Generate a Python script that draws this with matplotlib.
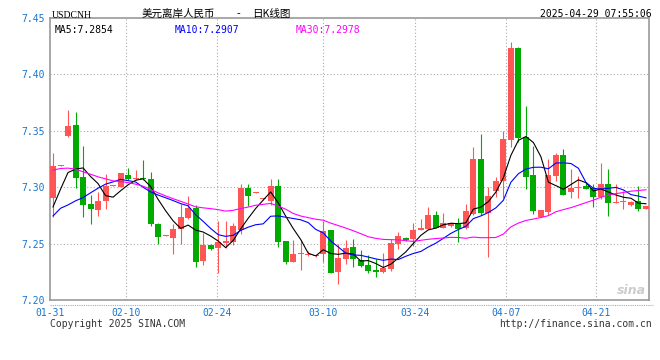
import numpy as np
import matplotlib
matplotlib.use("Agg")
import matplotlib.pyplot as plt
from matplotlib.lines import Line2D

# daily candles USD/CNH (open, high, low, close)
opens = [7.2907, 7.3190, 7.3457, 7.3552, 7.3090, 7.2851, 7.2797, 7.2874, 7.3013, 7.3004,
         7.3108, 7.3076, 7.3080, 7.3072, 7.2677, 7.2566, 7.2553, 7.2627, 7.2731, 7.2814,
         7.2345, 7.2485, 7.2461, 7.2509, 7.2515, 7.2619, 7.2997, 7.2948, 7.2893, 7.2881,
         7.3015, 7.2524, 7.2336, 7.2405, 7.2396, 7.2387, 7.2405, 7.2619, 7.2247, 7.2360,
         7.2470, 7.2351, 7.2307, 7.2262, 7.2247, 7.2274, 7.2500, 7.2548, 7.2539, 7.2625,
         7.2631, 7.2753, 7.2640, 7.2660, 7.2683, 7.2639, 7.2766, 7.3249, 7.2772, 7.2964,
         7.3053, 7.3417, 7.4237, 7.3444, 7.3109, 7.2737, 7.2781, 7.3098, 7.3284, 7.2956,
         7.2991, 7.3015, 7.2994, 7.2917, 7.3024, 7.2858, 7.2867, 7.2846, 7.2882, 7.2805]
highs = [7.3306, 7.3198, 7.3685, 7.3664, 7.3366, 7.2933, 7.2960, 7.3117, 7.3020, 7.3128,
         7.3170, 7.3152, 7.3241, 7.3138, 7.2680, 7.2572, 7.2671, 7.2849, 7.2923, 7.2843,
         7.2595, 7.2494, 7.2702, 7.2699, 7.2685, 7.3030, 7.3024, 7.2955, 7.2903, 7.3074,
         7.3074, 7.2524, 7.2536, 7.2536, 7.2435, 7.2399, 7.2702, 7.2619, 7.2494, 7.2530,
         7.2539, 7.2441, 7.2402, 7.2363, 7.2417, 7.2542, 7.2601, 7.2557, 7.2685, 7.2717,
         7.2824, 7.2789, 7.2771, 7.2690, 7.2731, 7.2849, 7.3358, 7.3476, 7.3003, 7.3089,
         7.3500, 7.4287, 7.4246, 7.3719, 7.3367, 7.2800, 7.3249, 7.3302, 7.3343, 7.3157,
         7.3095, 7.3050, 7.3030, 7.3213, 7.3157, 7.3030, 7.2964, 7.2875, 7.3015, 7.2836]
lows = [7.2738, 7.3188, 7.3448, 7.2996, 7.2738, 7.2676, 7.2747, 7.2809, 7.3011, 7.3002,
        7.3064, 7.3066, 7.3066, 7.2655, 7.2494, 7.2564, 7.2411, 7.2494, 7.2716, 7.2296,
        7.2307, 7.2440, 7.2241, 7.2464, 7.2485, 7.2589, 7.2836, 7.2946, 7.2890, 7.2842,
        7.2470, 7.2321, 7.2336, 7.2262, 7.2393, 7.2384, 7.2336, 7.2238, 7.2143, 7.2321,
        7.2292, 7.2289, 7.2241, 7.2202, 7.2241, 7.2259, 7.2455, 7.2527, 7.2476, 7.2619,
        7.2631, 7.2640, 7.2640, 7.2650, 7.2515, 7.2633, 7.2751, 7.2751, 7.2382, 7.2914,
        7.2908, 7.3358, 7.3402, 7.2982, 7.2760, 7.2735, 7.2751, 7.3059, 7.2935, 7.2905,
        7.2902, 7.2982, 7.2822, 7.2893, 7.2748, 7.2856, 7.2805, 7.2837, 7.2793, 7.2803]
closes = [7.3188, 7.3195, 7.3543, 7.3084, 7.2845, 7.2809, 7.2880, 7.3007, 7.3018, 7.3126,
          7.3075, 7.3081, 7.3072, 7.2673, 7.2562, 7.2570, 7.2633, 7.2737, 7.2819, 7.2340,
          7.2485, 7.2455, 7.2515, 7.2527, 7.2655, 7.2997, 7.2926, 7.2952, 7.2898, 7.3015,
          7.2515, 7.2336, 7.2405, 7.2410, 7.2408, 7.2396, 7.2610, 7.2238, 7.2372, 7.2461,
          7.2360, 7.2298, 7.2256, 7.2244, 7.2283, 7.2506, 7.2565, 7.2533, 7.2619, 7.2640,
          7.2753, 7.2640, 7.2682, 7.2683, 7.2627, 7.2787, 7.3249, 7.2772, 7.2923, 7.3053,
          7.3426, 7.4237, 7.3438, 7.3092, 7.2787, 7.2796, 7.3109, 7.3284, 7.2935, 7.2994,
          7.3005, 7.2982, 7.2917, 7.3024, 7.2858, 7.2873, 7.2882, 7.2873, 7.2805, 7.2834]

ma5_head = [7.2825, 7.2982, 7.3130, 7.3160]
ma10_head = [7.2745, 7.2813, 7.2843, 7.2879, 7.2908, 7.2950, 7.2991, 7.3027, 7.3047]
ma30_head = [7.3151, 7.3166, 7.3169, 7.3160, 7.3136, 7.3115, 7.3092, 7.3074, 7.3056, 7.3050,
             7.3041, 7.3027, 7.3009, 7.2980, 7.2950, 7.2923, 7.2898, 7.2875, 7.2851, 7.2826,
             7.2817, 7.2810, 7.2801, 7.2788, 7.2795, 7.2811, 7.2824, 7.2840, 7.2848]

date_labels = ["01-31", "02-10", "02-24", "03-10", "03-24", "04-07", "04-21"]
ma_labels = ["MA5:7.2854", "MA10:7.2907", "MA30:7.2978"]

W, H = 660, 360
RED, GREEN, BLUE_TXT = "#ff5555", "#00aa00", "#1874cd"
MONO = "DejaVu Sans Mono"
CJK = ["Noto Sans CJK SC", "DejaVu Sans"]


def fx(x):
    return x / W


def fy(y):
    return 1 - y / H


def rolling(vals, n):
    return np.convolve(vals, np.ones(n) / n, mode="valid")


o = np.array(opens)
h = np.array(highs)
l = np.array(lows)
c = np.array(closes)
x = np.arange(len(c))

ma5 = np.concatenate([ma5_head, rolling(c, 5)])
ma10 = np.concatenate([ma10_head, rolling(c, 10)])
ma30 = np.concatenate([ma30_head, rolling(c, 30)])

fig = plt.figure(figsize=(W / 100, H / 100), dpi=100)
ax = fig.add_axes([fx(50), fy(300), fx(599), 282 / H])
ax.set_xlim(-0.4, len(c) - 0.6)
ax.set_ylim(7.20, 7.45)

# dotted grid
for v in [7.25, 7.30, 7.35, 7.40]:
    ax.axhline(v, color="#aaaaaa", lw=0.8, ls=(0, (1, 2)), zorder=0)
tick_pos = [9.7, 21.9, 36.0, 48.2, 60.3, 72.4]
for p in tick_pos:
    ax.axvline(p, color="#aaaaaa", lw=0.8, ls=(0, (1, 2)), zorder=0)

# candles
up = c >= o
cols = np.where(up, RED, GREEN)
ax.vlines(x, l, h, colors=cols, lw=0.8, zorder=2)
body = np.maximum(np.abs(c - o), 0.0009)
ax.bar(x, body, bottom=np.minimum(o, c), width=0.8, color=cols, lw=0, zorder=3)

ax.plot(x, ma5, color="black", lw=0.8, zorder=4)
ax.plot(x, ma10, color="#0000ff", lw=0.8, zorder=4)
ax.plot(x, ma30, color="#ff00ff", lw=0.8, zorder=4)

for s in ax.spines.values():
    s.set_color("#999999")
    s.set_linewidth(1.2)

ax.set_yticks([7.20, 7.25, 7.30, 7.35, 7.40, 7.45])
ax.set_yticklabels(["%.2f" % v for v in ax.get_yticks()], color=BLUE_TXT,
                   fontsize=7, family=MONO)
ax.set_xticks([-0.4] + tick_pos)
ax.set_xticklabels(date_labels, color=BLUE_TXT, fontsize=7, family=MONO)
ax.tick_params(length=0, pad=4)
ax.tick_params(axis="x", pad=6)

# header
fig.text(fx(52), fy(15), "USDCNH", family="Liberation Serif", fontsize=7, va="center")
fig.text(fx(142), fy(14), "美元离岸人民币", family=CJK, fontsize=7.6, va="center")
fig.text(fx(238), fy(14), "-", family=CJK, fontsize=7.6, va="center", ha="center")
fig.text(fx(252), fy(14), "日K线图", family=CJK, fontsize=7.6, va="center")
fig.text(fx(652), fy(14), "2025-04-29 07:55:06", family=MONO, fontsize=7,
         va="center", ha="right")

for txt, xp, col in zip(ma_labels, [55, 175, 296], ["black", "#0000ff", "#ff00ff"]):
    fig.text(fx(xp), fy(30), txt, family=MONO, fontsize=7, color=col, va="center")

# footer
fig.add_artist(Line2D([fx(50), fx(653)], [fy(305), fy(305)], color="#aaaaaa",
                      lw=0.8, ls=(0, (1, 1))))
fig.text(fx(50), fy(324), "Copyright 2025 SINA.COM", family=MONO, fontsize=7,
         color="#333333", va="center")
fig.text(fx(652), fy(324), "http://finance.sina.com.cn", family=MONO, fontsize=7,
         color="#333333", va="center", ha="right")
fig.text(fx(646), fy(290), "sina", family="DejaVu Sans", fontsize=9, style="italic",
         weight="bold", color="#cccccc", ha="right", va="center")

fig.savefig("out.png", dpi=100)
print(ma5[-1], ma10[-1], ma30[-1])
